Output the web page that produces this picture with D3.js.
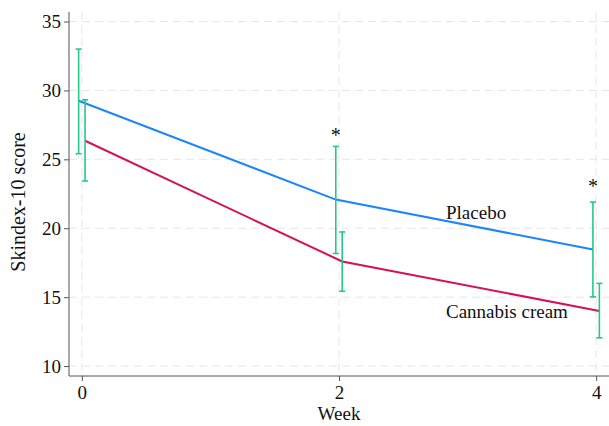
<!DOCTYPE html>
<html><head><meta charset="utf-8">
<script src="https://cdn.jsdelivr.net/npm/d3@7"></script>
</head><body style="margin:0;background:#fff">
<svg id="c" width="609" height="426" style="display:block"></svg>
<script>
const weeks = [0, 2, 4];
const xTicks = [0, 2, 4];
const yTicks = [10, 15, 20, 25, 30, 35];
const placebo = [29.25, 22.08, 18.46];
const placeboLo = [25.41, 18.17, 15.02];
const placeboHi = [33.0, 25.94, 21.9];
const cannabis = [26.35, 17.59, 14.0];
const cannabisLo = [23.43, 15.43, 12.05];
const cannabisHi = [29.32, 19.73, 16.0];
const starWeeks = [2, 4];
const starValues = [26.9, 23.2];

const FONT = "Liberation Serif";
const svg = d3.select("#c");
const x = d3.scaleLinear().domain([-0.1, 4.1]).range([69, 609]);
const y = d3.scaleLinear().domain([9.28, 35.69]).range([376, 12]);
const off = 0.025;
const blue = "#1a85ff", red = "#d41159", green = "#25c889";

// grid
svg.append("g").selectAll("line").data(yTicks).join("line")
  .attr("x1", 69).attr("x2", 609).attr("y1", d => y(d)).attr("y2", d => y(d))
  .attr("stroke", "#e6e6e6").attr("stroke-dasharray", "8,5");
svg.append("g").selectAll("line").data(xTicks).join("line")
  .attr("x1", d => x(d)).attr("x2", d => x(d)).attr("y1", 12).attr("y2", 376)
  .attr("stroke", "#e6e6e6").attr("stroke-dasharray", "8,5");

// axes
const yAxis = d3.axisLeft(y).tickValues(yTicks).tickFormat(d3.format("d")).tickSize(5).tickPadding(3);
const gy = svg.append("g").attr("transform", "translate(69,0)").call(yAxis)
  .attr("font-family", FONT).attr("font-size", 19);
gy.select(".domain").attr("d", "M0,12V376").attr("stroke", "#555");
gy.selectAll(".tick line").attr("stroke", "#555");
gy.selectAll("text").attr("fill", "#111");

const xAxis = d3.axisBottom(x).tickValues(xTicks).tickFormat(d3.format("d")).tickSize(5).tickPadding(5);
const gx = svg.append("g").attr("transform", "translate(0,376)").call(xAxis)
  .attr("font-family", FONT).attr("font-size", 19);
gx.select(".domain").attr("d", "M69,0H609").attr("stroke", "#555");
gx.selectAll(".tick line").attr("stroke", "#555");
gx.selectAll("text").attr("fill", "#111");

function label(sel, size) {
  return sel.attr("font-family", FONT).attr("font-size", size).attr("fill", "#111");
}
label(svg.append("text").attr("x", 339).attr("y", 420).attr("text-anchor", "middle"), 19).text("Week");
label(svg.append("text").attr("transform", "translate(25,202) rotate(-90)").attr("text-anchor", "middle"), 20).text("Skindex-10 score");

// lines
const line = d3.line().x(d => x(d[0])).y(d => y(d[1]));
svg.append("path").datum(weeks.map((w, i) => [w - off, placebo[i]]))
  .attr("d", line).attr("fill", "none").attr("stroke", blue).attr("stroke-width", 2);
svg.append("path").datum(weeks.map((w, i) => [w + off, cannabis[i]]))
  .attr("d", line).attr("fill", "none").attr("stroke", red).attr("stroke-width", 2);

// error bars
function errBars(lo, hi, o) {
  const g = svg.append("g").attr("stroke", green).attr("stroke-width", 1.6);
  weeks.forEach((w, i) => {
    const cx = x(w + o);
    g.append("line").attr("x1", cx).attr("x2", cx).attr("y1", y(lo[i])).attr("y2", y(hi[i]));
    g.append("line").attr("x1", cx - 3).attr("x2", cx + 3).attr("y1", y(lo[i])).attr("y2", y(lo[i]));
    g.append("line").attr("x1", cx - 3).attr("x2", cx + 3).attr("y1", y(hi[i])).attr("y2", y(hi[i]));
  });
}
errBars(placeboLo, placeboHi, -off);
errBars(cannabisLo, cannabisHi, off);

// stars
label(svg.append("g").selectAll("text").data(starWeeks).join("text")
  .attr("x", (d) => x(d - off)).attr("y", (d, i) => y(starValues[i]) + 9)
  .attr("text-anchor", "middle"), 20).text("*");

// labels
label(svg.append("text").attr("x", 446).attr("y", 219), 19).text("Placebo");
label(svg.append("text").attr("x", 446).attr("y", 318), 19).text("Cannabis cream");
</script></body></html>
